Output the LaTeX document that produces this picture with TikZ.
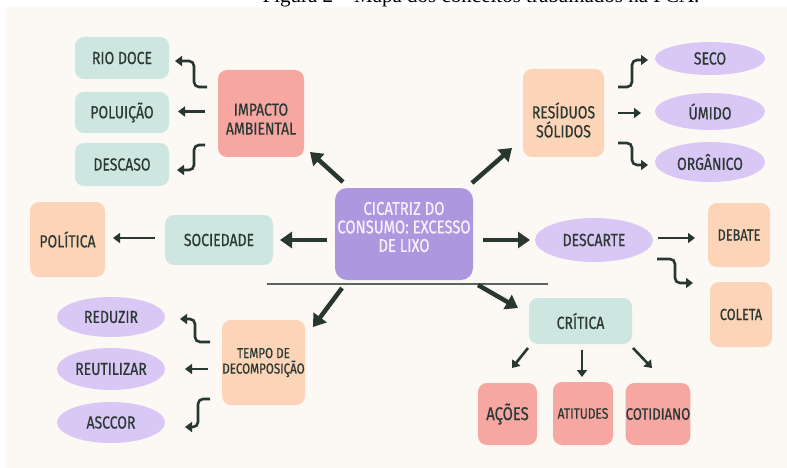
\documentclass[tikz,border=0pt]{standalone}
\usepackage{fontspec}
\setmainfont{Fira Sans}[FakeStretch=0.8, FakeBold=0.6]
\newfontfamily\titlefont{Liberation Serif}
\usetikzlibrary{arrows.meta,shapes.geometric}
\definecolor{cbg}{HTML}{FCF8F4}
\definecolor{cteal}{HTML}{CDE7E0}
\definecolor{csalmon}{HTML}{F7A7A2}
\definecolor{cpeach}{HTML}{FCD5B8}
\definecolor{clav}{HTML}{D9C8F5}
\definecolor{cpurple}{HTML}{AD98E0}
\definecolor{carrow}{HTML}{28372F}
\definecolor{ctxt}{HTML}{2C3833}
\definecolor{cline}{HTML}{5A6360}
\definecolor{cwhite}{HTML}{F6F1FC}
\tikzset{
  base/.style={outer sep=0pt, inner sep=0pt, text=ctxt, align=center,
    font=\fontsize{17.5}{19}\selectfont},
  sz/.style 2 args={minimum width=#1pt, minimum height=#2pt},
  rbox/.style={base, rectangle, rounded corners=9pt},
  tealbox/.style={rbox, fill=cteal},
  salbox/.style={rbox, fill=csalmon},
  peachbox/.style={rbox, fill=cpeach},
  oval/.style={base, ellipse, fill=clav},
  cbox/.style={rbox, fill=cpurple, rounded corners=12pt},
  ctext/.style={base, text=cwhite, font=\fontsize{18.5}{18.5}\selectfont},
  plain/.style={base},
  big/.style={draw=carrow, line width=4.5pt, -{Triangle[length=12pt,width=16pt]}},
  sm/.style={draw=carrow, line width=2.6pt, rounded corners=5pt, -{Triangle[length=7pt,width=10pt]}},
  hline/.style={draw=cline, line width=2pt},
}
\begin{document}
\begin{tikzpicture}[x=1pt,y=-1pt]
\clip (0,0) rectangle (787,468);
\fill[white] (0,0) rectangle (787,468);
\fill[cbg] (6,7) rectangle (787,468);
\node[base, anchor=base, font=\titlefont\fontsize{21}{22}\selectfont, text=black] (title) at (481,3)
  {Figura 2 – Mapa dos conceitos trabalhados na PCA.};

% left top group
\node[tealbox, sz={94}{42}] (rio) at (122,58) {RIO DOCE};
\node[tealbox, sz={94}{41}] (pol) at (122,112.5) {POLUIÇÃO};
\node[tealbox, sz={94}{43}] (desc) at (122,164.5) {DESCASO};
\node[salbox, sz={86}{87}] (imp) at (261,113.5) {};
\node[plain] (imptxt) at (261,119) {IMPACTO\\AMBIENTAL};

% right top group
\node[peachbox, sz={81}{88}] (res) at (563.5,113) {};
\node[plain] (restxt) at (563.5,120) {RESÍDUOS\\SÓLIDOS};
\node[oval, sz={110}{33}] (seco) at (710,58.5) {SECO};
\node[oval, sz={110}{37}] (umido) at (710,111.5) {ÚMIDO};
\node[oval, sz={110}{40}] (org) at (710,162) {ORGÂNICO};

% middle row
\node[peachbox, sz={75}{75}] (polit) at (67.5,239.5) {POLÍTICA};
\node[tealbox, sz={108}{50}] (soc) at (219,240) {SOCIEDADE};
\node[cbox, sz={138}{92}] (cen) at (404,234) {};
\node[ctext] (centxt) at (404,227) {CICATRIZ DO\\CONSUMO: EXCESSO\\DE LIXO};
\node[oval, sz={118}{44}] (dsc) at (594,240) {DESCARTE};
\node[peachbox, sz={62}{64}, font=\fontsize{16}{18}\selectfont] (deb) at (739,235) {DEBATE};
\node[peachbox, sz={62}{65}, font=\fontsize{16}{18}\selectfont] (col) at (741,314.5) {COLETA};

% bottom right
\node[tealbox, sz={103}{46}] (crit) at (580.5,321) {CRÍTICA};
\node[salbox, sz={59}{62}, font=\fontsize{18.5}{19}\selectfont] (aco) at (507.5,414) {AÇÕES};
\node[salbox, sz={60}{63}, font=\fontsize{15}{17}\selectfont] (att) at (583,413.5) {ATITUDES};
\node[salbox, sz={60}{62}, font=\fontsize{16.5}{17}\selectfont] (cot) at (658,414) {COTIDIANO};

% bottom left
\node[oval, sz={108}{40}] (red) at (111,317) {REDUZIR};
\node[oval, sz={108}{42}] (reu) at (111,369) {REUTILIZAR};
\node[oval, sz={108}{41}] (asc) at (111,422.5) {ASCCOR};
\node[peachbox, sz={83}{85}, font=\fontsize{14.5}{15.5}\selectfont] (tempo) at (263.5,362.5) {TEMPO DE\\DECOMPOSIÇÃO};

% horizontal line
\draw[hline] ([shift={(-68,4)}]cen.south west) -- ([shift={(75,4)}]cen.south east);

% big arrows
\draw[big] ([shift={(8,-6)}]cen.north west) -- ([shift={(6,-5)}]imp.south east);
\draw[big] ([shift={(-1,-5)}]cen.north east) -- ([shift={(-11,-9)}]res.south west);
\draw[big] ([shift={(-8,6)}]cen.west) -- ([shift={(7,0)}]soc.east);
\draw[big] ([shift={(10,6)}]cen.east) -- ([shift={(-5,0)}]dsc.west);
\draw[big] ([shift={(7,8)}]cen.south west) -- ([shift={(8,7)}]tempo.north east);
\draw[big] ([shift={(5,5)}]cen.south east) -- ([shift={(-11,10)}]crit.north west);

% small arrows
\draw[sm] ([shift={(-11,-26.5)}]imp.west) -| ([shift={(25,3)}]rio.east) -- ([shift={(6,3)}]rio.east);
\draw[sm] ([shift={(-13,-2)}]imp.west) -- ([shift={(9,-1)}]pol.east);
\draw[sm] ([shift={(-13,31.5)}]imp.west) -| ([shift={(25,5.5)}]desc.east) -- ([shift={(8,5.5)}]desc.east);

\draw[sm] ([shift={(14,-26)}]res.east) -| ([shift={(-23,1.5)}]seco.west) -- ([shift={(-7,1.5)}]seco.west);
\draw[sm] ([shift={(14,0)}]res.east) -- ([shift={(-14,1.5)}]umido.west);
\draw[sm] ([shift={(14,30)}]res.east) -| ([shift={(-23,3)}]org.west) -- ([shift={(-7,3)}]org.west);

\draw[sm] ([shift={(-10,-2)}]soc.west) -- ([shift={(8,-1.5)}]polit.east);
\draw[sm] ([shift={(5,-2)}]dsc.east) -- ([shift={(-13,3)}]deb.west);
\draw[sm] ([shift={(4,19)}]dsc.east) -| ([shift={(-35,-31.5)}]col.west) -- ([shift={(-17,-31.5)}]col.west);

\draw[sm] ([shift={(-1,4)}]crit.south west) -- ([shift={(4.5,-15)}]aco.north);
\draw[sm] ([shift={(1.5,6)}]crit.south) -- ([shift={(-1,-5)}]att.north);
\draw[sm] ([shift={(1,4)}]crit.south east) -- ([shift={(-6,-15)}]cot.north);

\draw[sm] ([shift={(-12,-20.5)}]tempo.west) -| ([shift={(30,2)}]red.east) -- ([shift={(15,2)}]red.east);
\draw[sm] ([shift={(-14,6.5)}]tempo.west) -- ([shift={(20,0)}]reu.east);
\draw[sm] ([shift={(-12,36.5)}]tempo.west) -| ([shift={(33,4.5)}]asc.east) -- ([shift={(20,4.5)}]asc.east);
\end{tikzpicture}
\end{document}
